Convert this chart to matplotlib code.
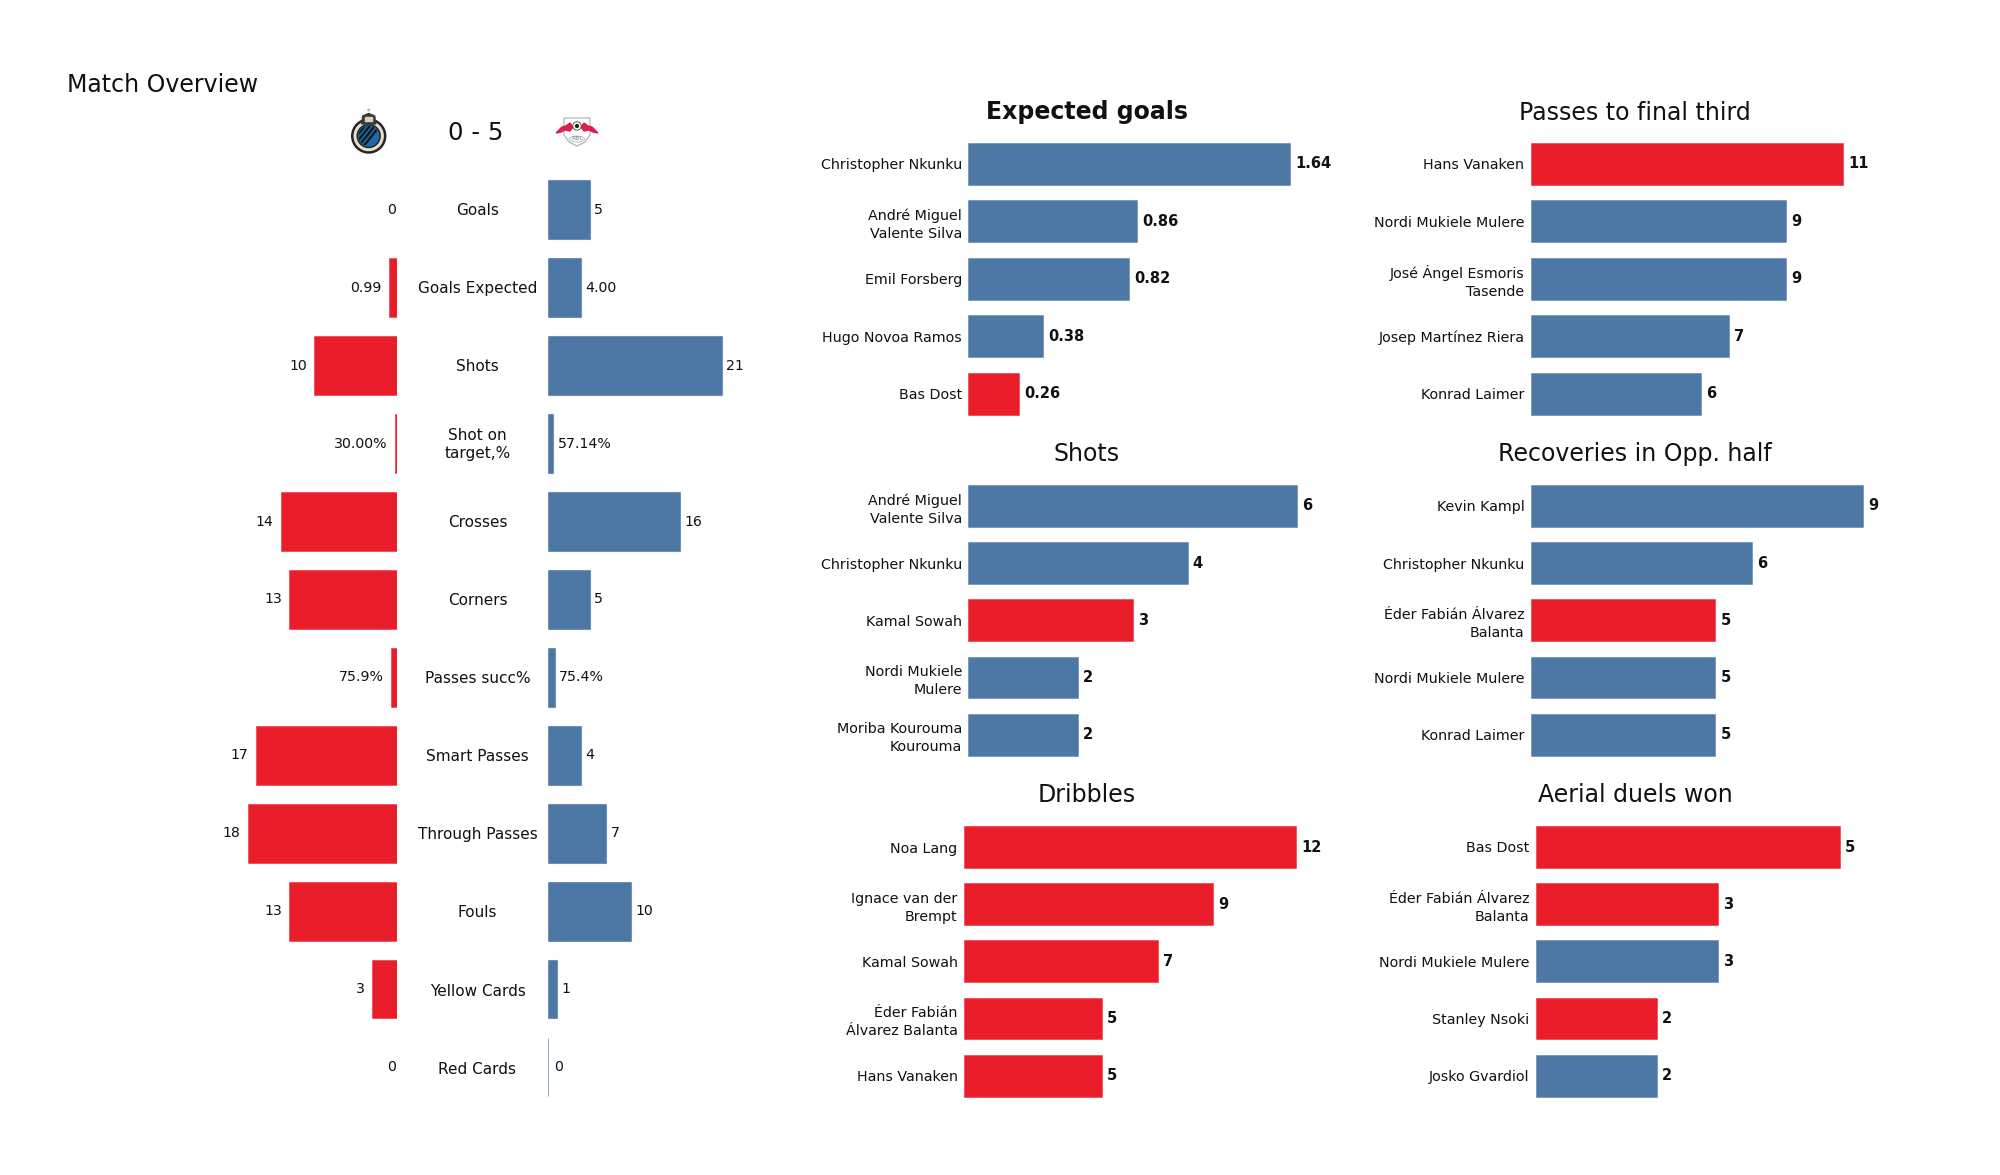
import matplotlib
matplotlib.use("Agg")
import matplotlib.pyplot as plt
from matplotlib.patches import Circle, Ellipse, Polygon, Rectangle

RED = "#EA1D2B"
BLUE = "#4D77A5"
W, H = 2000, 1175

# match overview table
stat_names = ["Goals", "Goals Expected", "Shots", "Shot on\ntarget,%", "Crosses", "Corners",
              "Passes succ%", "Smart Passes", "Through Passes", "Fouls", "Yellow Cards", "Red Cards"]
home_vals = [0, 0.99, 10, 0.30, 14, 13, 0.759, 17, 18, 13, 3, 0]
away_vals = [5, 4.00, 21, 0.5714, 16, 5, 0.754, 4, 7, 10, 1, 0]
home_text = ["0", "0.99", "10", "30.00%", "14", "13", "75.9%", "17", "18", "13", "3", "0"]
away_text = ["5", "4.00", "21", "57.14%", "16", "5", "75.4%", "4", "7", "10", "1", "0"]

# player panels
xg_names = ["Christopher Nkunku", "André Miguel\nValente Silva", "Emil Forsberg", "Hugo Novoa Ramos", "Bas Dost"]
xg_vals = [1.64, 0.86, 0.82, 0.38, 0.26]
xg_home = [0, 0, 0, 0, 1]

final_names = ["Hans Vanaken", "Nordi Mukiele Mulere", "José Ángel Esmoris\nTasende", "Josep Martínez Riera", "Konrad Laimer"]
final_vals = [11, 9, 9, 7, 6]
final_home = [1, 0, 0, 0, 0]

shot_names = ["André Miguel\nValente Silva", "Christopher Nkunku", "Kamal Sowah", "Nordi Mukiele\nMulere", "Moriba Kourouma\nKourouma"]
shot_vals = [6, 4, 3, 2, 2]
shot_home = [0, 0, 1, 0, 0]

recov_names = ["Kevin Kampl", "Christopher Nkunku", "Éder Fabián Álvarez\nBalanta", "Nordi Mukiele Mulere", "Konrad Laimer"]
recov_vals = [9, 6, 5, 5, 5]
recov_home = [0, 0, 1, 0, 0]

drib_names = ["Noa Lang", "Ignace van der\nBrempt", "Kamal Sowah", "Éder Fabián\nÁlvarez Balanta", "Hans Vanaken"]
drib_vals = [12, 9, 7, 5, 5]
drib_home = [1, 1, 1, 1, 1]

aerial_names = ["Bas Dost", "Éder Fabián Álvarez\nBalanta", "Nordi Mukiele Mulere", "Stanley Nsoki", "Josko Gvardiol"]
aerial_vals = [5, 3, 3, 2, 2]
aerial_home = [1, 1, 0, 1, 0]

fig = plt.figure(figsize=(20, 11.75), dpi=100)
plt.rcParams["font.family"] = "DejaVu Sans"


def px_axes(x0, y0, x1, y1):
    # axes from pixel box, y measured from the top
    ax = fig.add_axes([x0 / W, 1 - y1 / H, (x1 - x0) / W, (y1 - y0) / H])
    ax.patch.set_alpha(0)
    for s in ax.spines.values():
        s.set_visible(False)
    return ax


def player_panel(names, vals, home, x0, ppu, y_first, y_last, fmt="{}"):
    step = (y_last - y_first) / 4
    ax = px_axes(x0, y_first - step / 2, x0 + 420, y_last + step / 2)
    cols = [RED if h else BLUE for h in home]
    ax.barh(range(5), vals, height=0.73, color=cols, edgecolor=[c + "AA" for c in cols], linewidth=0.5)
    ax.set_xlim(0, 420 / ppu)
    ax.set_ylim(4.5, -0.5)
    ax.set_xticks([])
    ax.set_yticks(range(5))
    ax.set_yticklabels(names, fontsize=10.3, color="#111111")
    ax.tick_params(axis="y", length=0, pad=4.5)
    for lab in ax.get_yticklabels():
        lab.set_linespacing(1.35)
    for i, v in enumerate(vals):
        ax.annotate(fmt.format(v), (v, i), xytext=(3.6, 0), textcoords="offset points",
                    va="center", ha="left", fontsize=10.5, fontweight="bold", color="#111111")
    return ax


row_first, row_last = 209.7, 1067.2
row_step = (row_last - row_first) / 11
unit_home = 8.32
unit_away = 8.25

# left block, two mirrored bar axes
ax_h = px_axes(150, row_first - row_step / 2, 397.3, row_last + row_step / 2)
ax_a = px_axes(548.3, row_first - row_step / 2, 800, row_last + row_step / 2)
ax_h.barh(range(12), home_vals, height=0.75, color=RED,
          edgecolor=[RED + "AA" if v > 0 else "none" for v in home_vals], linewidth=0.5)
ax_a.barh(range(12), away_vals, height=0.75, color=BLUE, edgecolor=BLUE + "99", linewidth=0.8)
ax_h.set_xlim(247.3 / unit_home, 0)
ax_a.set_xlim(0, 251.7 / unit_away)
for ax in (ax_h, ax_a):
    ax.set_ylim(11.5, -0.5)
    ax.set_xticks([])
    ax.set_yticks([])
for i in range(12):
    gap_h = 5.2 if home_vals[i] > 0 else 0.8
    gap_a = 3.2 if away_vals[i] > 0 else 4.5
    ax_h.annotate(home_text[i], (home_vals[i], i), xytext=(-gap_h, 0), textcoords="offset points",
                  va="center", ha="right", fontsize=10.2, color="#111111")
    ax_a.annotate(away_text[i], (away_vals[i], i), xytext=(gap_a, 0), textcoords="offset points",
                  va="center", ha="left", fontsize=10.2, color="#111111")

player_panel(xg_names, xg_vals, xg_home, 968.4, 196.0, 163.8, 394, "{:.2f}")
player_panel(final_names, final_vals, final_home, 1530.6, 28.4, 163.8, 394)
player_panel(shot_names, shot_vals, shot_home, 968.4, 54.8, 506, 734.7)
player_panel(recov_names, recov_vals, recov_home, 1530.6, 36.95, 506, 734.7)
player_panel(drib_names, drib_vals, drib_home, 963.8, 27.7, 847, 1075.7)
player_panel(aerial_names, aerial_vals, aerial_home, 1535.6, 60.8, 847, 1075.7)

# overlay in pixel coordinates for titles and crests
ov = fig.add_axes([0, 0, 1, 1])
ov.set_xlim(0, W)
ov.set_ylim(H, 0)
ov.axis("off")
ov.patch.set_alpha(0)

ov.text(67, 85.5, "Match Overview", fontsize=17, va="center", ha="left", color="#111111")
ov.text(476, 133, "0 - 5", fontsize=17.6, va="center", ha="center", color="#111111")
ov.text(1087, 112.5, "Expected goals", fontsize=17, fontweight="bold", va="center", ha="center", color="#111111")
ov.text(1635, 112.5, "Passes to final third", fontsize=17, va="center", ha="center", color="#111111")
ov.text(1086.5, 454, "Shots", fontsize=17, va="center", ha="center", color="#111111")
ov.text(1635, 454, "Recoveries in Opp. half", fontsize=17, va="center", ha="center", color="#111111")
ov.text(1086.5, 795.5, "Dribbles", fontsize=17, va="center", ha="center", color="#111111")
ov.text(1635, 795.5, "Aerial duels won", fontsize=17, va="center", ha="center", color="#111111")

for i, name in enumerate(stat_names):
    ov.text(477.5, row_first + i * (row_step + 0.1) + 0.8, name, fontsize=11, va="center", ha="center",
            linespacing=1.2, color="#111111")

# Club Brugge crest, rough shape
cx, cy = 368.7, 136
ov.add_patch(Circle((cx, cy), 17, color="#23252b"))
ov.add_patch(Circle((cx, cy), 14.5, color="#e9e0c4"))
ov.add_patch(Circle((cx, cy), 11.5, color="#23252b"))
disc = Circle((cx, cy), 10, color="#1c6aa6")
ov.add_patch(disc)
for off in (-8, -3, 2, 7):
    ln, = ov.plot([cx - 12 + off, cx + 4 + off], [cy + 10, cy - 10], color="#10141c", lw=1.6)
    ln.set_clip_path(disc)
ov.add_patch(Polygon([(cx - 7, 124), (cx - 6, 116), (cx, 113.5), (cx + 6, 116), (cx + 7, 124)],
                     closed=True, color="#3a3a3a"))
ov.add_patch(Rectangle((cx - 3.5, 116.5), 7, 4, color="#d9d2bd"))
ov.add_patch(Circle((cx, 110), 0.8, color="#c9b98a"))

# RB Leipzig crest, rough shape
lx = 577
ov.add_patch(Polygon([(lx - 13, 118), (lx + 13, 118), (lx + 13, 135), (lx + 8, 142), (lx, 146), (lx - 8, 142), (lx - 13, 135)],
                     closed=True, fc="white", ec="#a9adb3", lw=0.8))
for side in (-1, 1):
    ov.add_patch(Polygon([(lx + side * 21, 133), (lx + side * 15, 127), (lx + side * 11, 126), (lx + side * 7, 123),
                          (lx + side * 4, 127), (lx + side * 7, 131), (lx + side * 12, 130), (lx + side * 16, 132)],
                         closed=True, color="#dd1f4d"))
ov.add_patch(Circle((lx, 126), 4.2, fc="white", ec="#444444", lw=0.6))
ov.add_patch(Circle((lx, 126), 1.4, color="#222222"))
ov.add_patch(Ellipse((lx, 139), 15, 6, fc="white", ec="#9aa0a8", lw=0.5))
ov.text(lx, 139, "RBL", fontsize=4.5, ha="center", va="center", color="#7a7f86")

fig.savefig("out.png", dpi=100)
